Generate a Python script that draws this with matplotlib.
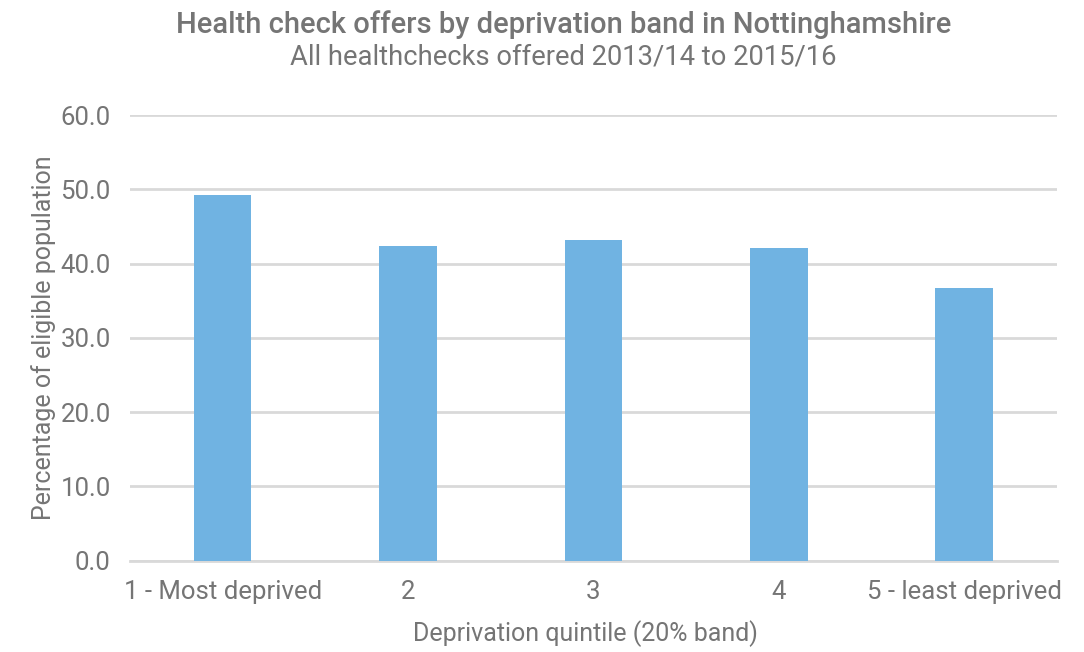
import matplotlib.pyplot as plt

# Health check offers, % of eligible population per deprivation quintile
quintiles = ["1 - Most deprived", "2", "3", "4", "5 - least deprived"]
offer_pct = [49.2, 42.4, 43.2, 42.1, 36.7]
y_ticks = [0, 10, 20, 30, 40, 50, 60]

grey = "#757575"
plt.rcParams["font.family"] = ["Roboto", "DejaVu Sans"]

fig = plt.figure(figsize=(10.84, 6.52), dpi=100)
ax = fig.add_axes([0.12, 0.14, 0.855, 0.6836])

x = range(len(quintiles))
ax.bar(x, offer_pct, width=0.31, color="#70B3E2", zorder=3)

ax.set_xlim(-0.5, len(quintiles) - 0.5)
ax.set_ylim(0, 60)
ax.set_yticks(y_ticks)
ax.set_yticklabels([f"{v:.1f}" for v in y_ticks])
ax.set_xticks(list(x))
ax.set_xticklabels(quintiles)

ax.grid(axis="y", color="#D9D9D9", linewidth=2, zorder=0)
for side in ["top", "right", "left"]:
    ax.spines[side].set_visible(False)
ax.spines["bottom"].set_color("#D9D9D9")
ax.spines["bottom"].set_linewidth(2)
ax.tick_params(axis="both", length=0, labelsize=18.5, labelcolor=grey)
ax.tick_params(axis="x", pad=14)
ax.tick_params(axis="y", pad=14)

ax.set_xlabel("Deprivation quintile (20% band)", fontsize=18, color=grey, labelpad=12)
ax.set_ylabel("Percentage of eligible population", fontsize=18, color=grey, labelpad=3)
ax.xaxis.set_label_coords(0.491, -0.133)

fig.text(0.52, 0.963, "Health check offers by deprivation band in Nottinghamshire",
         ha="center", va="center", fontsize=21, color=grey, fontweight="medium")
fig.text(0.52, 0.913, "All healthchecks offered 2013/14 to 2015/16",
         ha="center", va="center", fontsize=19.75, color=grey)

fig.savefig("out.png", dpi=100)
